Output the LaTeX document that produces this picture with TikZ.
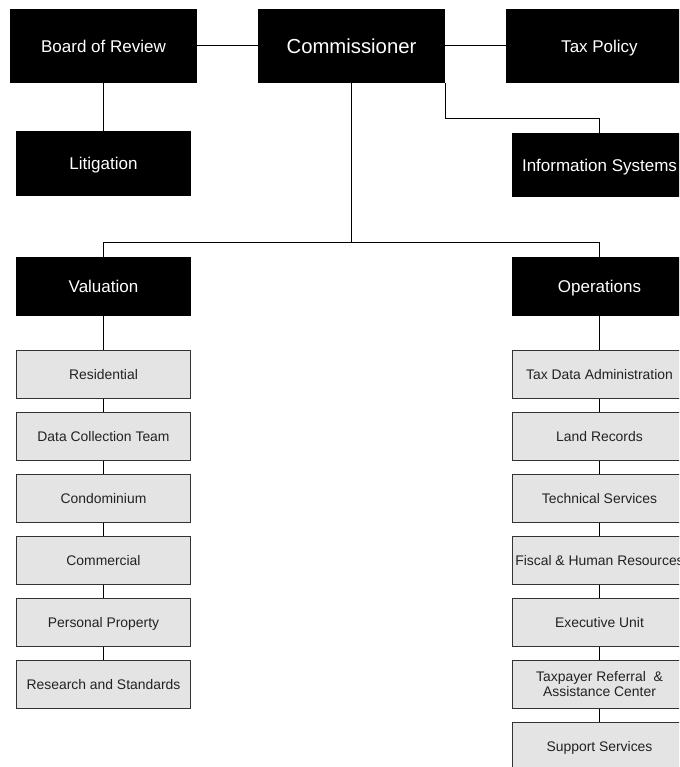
\documentclass[tikz,border=0pt]{standalone}
\usepackage{fontspec}
\setmainfont{Liberation Sans}
\definecolor{boxgray}{HTML}{E4E4E4}
\definecolor{edgegray}{HTML}{333333}
\definecolor{txtgray}{HTML}{222222}
\tikzset{
  blackbox/.style={fill=black, text=white, inner sep=0pt, align=center,
    text height=12.2pt, text depth=0pt,
    minimum width=175pt, font=\fontsize{17}{20}\selectfont},
  topbox/.style={blackbox, minimum width=187pt, minimum height=74pt},
  grayshape/.style={fill=boxgray, draw=edgegray, line width=1pt, text=txtgray,
    inner sep=0pt, align=center, minimum width=174pt, minimum height=48pt,
    font=\fontsize{13.9}{15}\selectfont},
  graybox/.style={grayshape, text height=9.95pt, text depth=0pt},
  link/.style={draw=black, line width=1pt}
}
\begin{document}
\begin{tikzpicture}[x=1pt, y=-1pt]
\path[use as bounding box, clip] (0,0) rectangle (679,767);
\fill[white] (0,0) rectangle (679,767);

\node[topbox] (board) at (103.5,46) {Board of Review};
\node[topbox, font=\fontsize{20.3}{24}\selectfont, text height=14.5pt] (comm) at (351.5,46) {Commissioner};
\node[topbox] (tax) at (599.5,46) {Tax Policy};
\node[blackbox, minimum height=65pt] (lit) at (103.5,163.5) {Litigation};
\node[blackbox, minimum height=64pt] (info) at (599.5,165) {Information Systems};
\node[blackbox, minimum height=59pt] (val) at (103.5,286.5) {Valuation};
\node[blackbox, minimum height=59pt] (ops) at (599.5,286.5) {Operations};

\node[graybox] (l1) at (103.5,374.5) {Residential};
\node[graybox] (l2) at (103.5,436.5) {Data Collection Team};
\node[graybox] (l3) at (103.5,498.5) {Condominium};
\node[graybox] (l4) at (103.5,560.5) {Commercial};
\node[graybox] (l5) at (103.5,622.5) {Personal Property};
\node[graybox] (l6) at (103.5,684.5) {Research and Standards};

\node[graybox] (r1) at (599.5,374.5) {Tax Data Administration};
\node[graybox] (r2) at (599.5,436.5) {Land Records};
\node[graybox] (r3) at (599.5,498.5) {Technical Services};
\node[graybox] (r4) at (599.5,560.5) {Fiscal \& Human Resources};
\node[graybox] (r5) at (599.5,622.5) {Executive Unit};
\node[grayshape] (r6) at (599.5,684.5) {Taxpayer Referral~~\&\\Assistance Center};
\node[graybox] (r7) at (599.5,746.5) {Support Services};

\coordinate (bus) at (351.5,242.5);

\draw[link] (board.east) -- (comm.west);
\draw[link] (comm.east) -- (tax.west);
\draw[link] (board.south) -- (lit.north);
\draw[link] (comm.south east) -- ++(0,35) -| (info.north);
\draw[link] (comm.south) -- (bus);
\draw[link] (val.north) |- (bus) -| (ops.north);

\draw[link] (val.south) -- (l1.north);
\draw[link] (l1.south) -- (l2.north);
\draw[link] (l2.south) -- (l3.north);
\draw[link] (l3.south) -- (l4.north);
\draw[link] (l4.south) -- (l5.north);
\draw[link] (l5.south) -- (l6.north);

\draw[link] (ops.south) -- (r1.north);
\draw[link] (r1.south) -- (r2.north);
\draw[link] (r2.south) -- (r3.north);
\draw[link] (r3.south) -- (r4.north);
\draw[link] (r4.south) -- (r5.north);
\draw[link] (r5.south) -- (r6.north);
\draw[link] (r6.south) -- (r7.north);
\end{tikzpicture}
\end{document}
